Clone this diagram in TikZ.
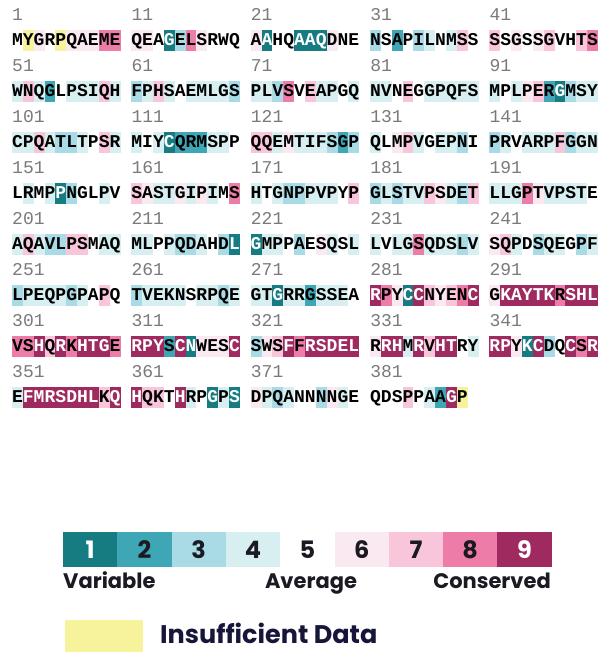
\documentclass[tikz,border=0pt]{standalone}
\usepackage{fontspec}
\setmainfont{Poppins}
\newfontfamily\seqfont{Liberation Mono}
\definecolor{g0}{HTML}{F7F29C}
\definecolor{g1}{HTML}{177C82}
\definecolor{g2}{HTML}{3FA6B5}
\definecolor{g3}{HTML}{A8DBE5}
\definecolor{g4}{HTML}{D8EFF1}
\definecolor{g5}{HTML}{FFFFFF}
\definecolor{g6}{HTML}{FBE9F2}
\definecolor{g7}{HTML}{F8C5DA}
\definecolor{g8}{HTML}{EE7CA8}
\definecolor{g9}{HTML}{9E2A60}
\definecolor{numgray}{HTML}{7A7A7A}
\definecolor{ink}{HTML}{1A1A22}
\definecolor{navy}{HTML}{16163A}
\tikzset{
  res/.style={anchor=base, inner sep=0pt, font=\seqfont\bfseries\fontsize{18}{20}\selectfont},
  posnum/.style={anchor=base west, inner sep=0pt, text=numgray, font=\seqfont\fontsize{18}{20}\selectfont},
  legdigit/.style={inner sep=0pt, font=\bfseries\fontsize{24}{27}\selectfont},
  leglabel/.style={anchor=base, inner sep=0pt, text=ink, font=\bfseries\fontsize{21}{24}\selectfont}
}
\newcommand\seqrow[3]{% #1 row (0-based), #2 number of blocks, #3 residues
  \foreach \bk in {1,...,#2} {
    \pgfmathtruncatemacro\nn{50*#1+10*(\bk-1)+1}
    \node[posnum] (n#1-\bk) at ({12+(\bk-1)*11*10.85}, {20+51*#1}) {\nn};
  }
  \foreach \ch/\gr [count=\ii from 0] in {#3} {
    \pgfmathtruncatemacro\bb{\ii/10}
    \pgfmathsetmacro\xx{12+(\ii+\bb)*10.85}
    \pgfmathsetmacro\yy{30+51*#1}
    \ifnum\gr=5\relax\else\fill[g\gr] (\xx,\yy) rectangle ++(10.85,20.5);\fi
    \ifnum\gr=1 \def\tc{white}\else\ifnum\gr=9 \def\tc{white}\else\def\tc{black}\fi\fi
    \node[res, text=\tc] (r#1-\ii) at (\xx+5.425, \yy+15.5) {\ch};
  }
}
\begin{document}
\begin{tikzpicture}[x=1pt,y=-1pt]
\useasboundingbox (0,0) rectangle (605,656);
\fill[white] (0,0) rectangle (605,656);
% row 1
\seqrow{0}{5}{M/5,Y/0,G/6,R/5,P/0,Q/6,A/6,E/6,M/8,E/8,
Q/6,E/6,A/5,G/1,E/3,L/8,S/6,R/5,W/5,Q/5,
A/6,A/1,H/5,Q/5,A/1,A/1,Q/1,D/6,N/5,E/5,
N/3,S/5,A/2,P/5,I/3,L/4,N/5,M/4,S/7,S/5,
S/7,S/5,G/6,S/5,S/6,G/7,V/5,H/5,T/7,S/8}
% row 2
\seqrow{1}{5}{W/4,N/7,Q/4,G/2,L/5,P/4,S/4,I/4,Q/7,H/4,
F/3,P/4,H/7,S/4,A/5,E/4,M/4,L/4,G/4,S/3,
P/4,L/4,V/3,S/8,V/5,E/7,A/4,P/4,G/5,Q/4,
N/4,V/4,N/5,E/7,G/5,G/4,P/4,Q/4,F/4,S/4,
M/4,P/5,L/4,P/6,E/7,R/2,G/1,M/3,S/4,Y/4}
% row 3
\seqrow{2}{5}{C/4,P/4,Q/7,A/4,T/3,L/3,T/4,P/5,S/7,R/4,
M/4,I/5,Y/4,C/1,Q/2,R/2,M/2,S/4,P/4,P/5,
Q/7,Q/7,E/4,M/6,T/4,I/4,F/4,S/3,G/2,P/3,
Q/4,L/5,M/6,P/7,V/4,G/5,E/4,P/4,N/3,I/5,
P/3,R/4,V/5,A/4,R/4,P/4,F/7,G/3,G/4,N/4}
% row 4
\seqrow{3}{5}{L/5,R/4,M/5,P/4,P/1,N/3,G/5,L/5,P/4,V/5,
S/7,A/6,S/4,T/4,G/6,I/4,P/6,I/4,M/5,S/8,
H/4,T/5,G/4,N/3,P/3,P/4,V/4,P/4,Y/5,P/7,
G/3,L/4,S/3,T/4,V/4,P/7,S/6,D/4,E/3,T/7,
L/4,L/4,G/4,P/8,T/6,V/4,P/4,S/4,T/4,E/5}
% row 5
\seqrow{4}{5}{A/4,Q/7,A/4,V/3,L/3,P/7,S/7,M/5,A/4,Q/4,
M/4,L/4,P/5,P/4,Q/3,D/3,A/4,H/5,D/3,L/1,
G/1,M/4,P/4,P/5,A/3,E/5,S/6,Q/4,S/5,L/4,
L/4,V/5,L/4,G/4,S/8,Q/4,D/4,S/4,L/3,V/4,
S/6,Q/7,P/4,D/5,S/3,Q/4,E/4,G/5,P/3,F/4}
% row 6
\seqrow{5}{5}{L/3,P/4,E/4,Q/4,P/4,G/3,P/4,A/5,P/7,Q/5,
T/3,V/4,E/4,K/4,N/4,S/5,R/4,P/4,Q/3,E/4,
G/4,T/4,G/1,R/4,R/4,G/2,S/4,S/4,E/4,A/5,
R/9,P/8,Y/6,C/1,C/9,N/7,Y/6,E/7,N/8,C/9,
G/6,K/9,A/9,Y/9,T/9,K/9,R/8,S/9,H/9,L/9}
% row 7
\seqrow{6}{5}{V/8,S/8,H/9,Q/7,R/9,K/8,H/9,T/9,G/9,E/8,
R/9,P/9,Y/9,S/2,C/9,N/1,W/6,E/6,S/6,C/9,
S/3,W/6,S/7,F/9,F/8,R/9,S/9,D/9,E/9,L/9,
R/6,R/9,H/9,M/4,R/9,V/7,H/9,T/9,R/5,Y/4,
R/9,P/9,Y/6,K/1,C/9,D/3,Q/5,C/9,S/8,R/9}
% row 8
\seqrow{7}{4}{E/4,F/9,M/9,R/9,S/9,D/9,H/9,L/9,K/7,Q/9,
H/9,Q/7,K/7,T/5,H/9,R/4,P/5,G/1,P/4,S/1,
D/6,P/4,Q/3,A/4,N/5,N/5,N/3,N/6,G/4,E/5,
Q/5,D/5,S/5,P/7,P/5,A/4,A/2,G/9,P/0}
% legend
\foreach \k in {1,...,9} {
  \pgfmathsetmacro\lx{63+(\k-1)*54.3}
  \fill[g\k] (\lx,532) rectangle ++(54.3,35);
  \ifnum\k=1 \def\dc{white}\else\ifnum\k=9 \def\dc{white}\else\def\dc{ink}\fi\fi
  \node[legdigit, text=\dc] (d\k) at (\lx+27.15, 550) {\k};
}
\node[leglabel, anchor=base west] (lvar) at (63,588) {Variable};
\node[leglabel] (lavg) at (311,588) {Average};
\node[leglabel, anchor=base east] (lcon) at (551,588) {Conserved};
\fill[g0] (65,620) rectangle (143,652);
\node[anchor=base west, inner sep=0pt, text=navy, font=\fontsize{25.5}{28}\selectfont\bfseries] (lins) at (160,643) {Insufficient Data};
\end{tikzpicture}
\end{document}
